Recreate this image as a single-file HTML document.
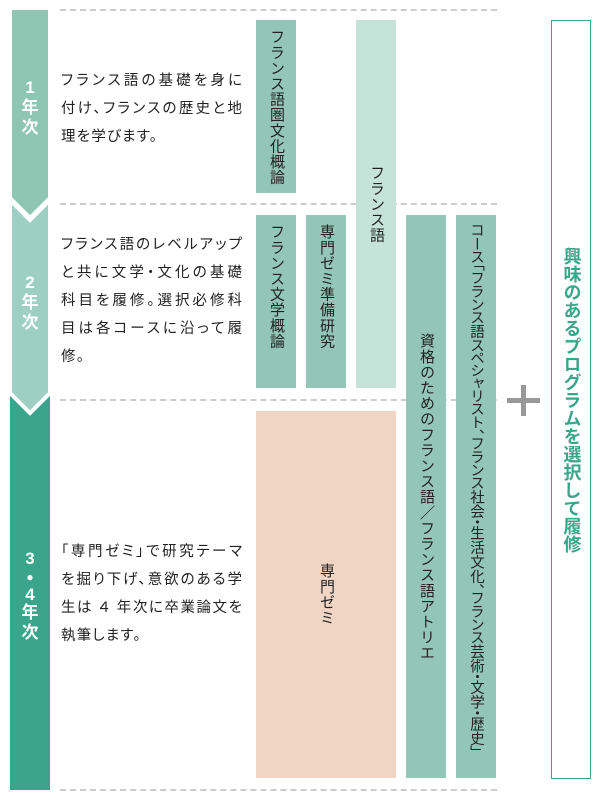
<!DOCTYPE html>
<html><head><meta charset="utf-8"><style>
body{margin:0;width:600px;height:800px;background:#fff;position:relative;overflow:hidden;font-family:"Liberation Sans","Noto Sans CJK JP",sans-serif;color:#222}
.a{position:absolute}
.dl{position:absolute;left:60px;width:437px;border-top:2px dashed #ccc;height:0}
.b{position:absolute;width:40px;background:#93c6b6;writing-mode:vertical-rl;font-size:15px;display:flex;align-items:center;box-sizing:border-box;letter-spacing:0.6px;line-height:40px;white-space:nowrap}
.top{justify-content:flex-start;padding-top:9px}
.mid{justify-content:center}
.d{position:absolute;left:61px;font-size:14.5px;line-height:28px;width:181px;white-space:nowrap;font-feature-settings:'palt'}
.d div{text-align:justify;text-align-last:justify}
.d div.l{text-align-last:left;letter-spacing:1.2px}
.y{position:absolute;left:10px;width:40px;text-align:center;color:#fff;font-weight:bold;font-size:17px;line-height:20px}
</style></head><body>
<svg class="a" style="left:0;top:0" width="60" height="800">
<rect x="10" y="200" width="40" height="200" fill="#9dd0c2"/>
<rect x="10" y="395" width="40" height="395" fill="#3aa58a"/>
<polygon points="10,200 30,220 50,200 50,393 30,413 10,393" fill="#9dd0c2" stroke="#fff" stroke-width="4"/>
<polygon points="10,8 50,8 50,198 30,218 10,198" fill="#8fc5b3" stroke="#fff" stroke-width="4"/>
</svg>
<div class="y" style="top:78px">1<br>年<br>次</div>
<div class="y" style="top:273px">2<br>年<br>次</div>
<div class="y" style="top:550px;line-height:17px">3<br><span style="font-size:12px">●</span><br>4<br><span style="line-height:20px">年<br>次</span></div>
<div class="dl" style="top:9px"></div>
<div class="dl" style="top:203px"></div>
<div class="dl" style="top:399px"></div>
<div class="dl" style="top:789px"></div>
<div class="d" style="top:67px"><div>フランス語の基礎を身に</div><div>付け、フランスの歴史と地</div><div class="l">理を学びます。</div></div>
<div class="d" style="top:231px"><div>フランス語のレベルアップ</div><div>と共に文学・文化の基礎</div><div>科目を履修。選択必修科</div><div>目は各コースに沿って履</div><div class="l">修。</div></div>
<div class="d" style="top:538px"><div>「専門ゼミ」で研究テーマ</div><div>を掘り下げ、意欲のある学</div><div>生は ４ 年次に卒業論文を</div><div class="l">執筆します。</div></div>
<div class="b top" style="left:256px;top:20px;height:173px">フランス語圏文化概論</div>
<div class="b mid" style="left:356px;top:20px;height:368px;background:#c6e3da">フランス語</div>
<div class="b top" style="left:256px;top:215px;height:173px">フランス文学概論</div>
<div class="b top" style="left:306px;top:215px;height:173px">専門ゼミ準備研究</div>
<div class="b mid" style="left:406px;top:215px;height:563px">資格のためのフランス語／フランス語アトリエ</div>
<div class="b top" style="left:456px;top:215px;height:563px;font-size:14.5px;letter-spacing:0;padding-top:8px;font-feature-settings:'vpal';overflow:hidden">コース「フランス語スペシャリスト、フランス社会・生活文化、フランス芸術・文学・歴史」</div>
<div class="b mid" style="left:256px;top:411px;height:367px;width:140px;background:#f0d5c5;line-height:140px">専門ゼミ</div>
<div class="a" style="left:507px;top:398px;width:33px;height:5px;background:#999"></div>
<div class="a" style="left:521px;top:385px;width:5px;height:31px;background:#999"></div>
<div class="a" style="left:551px;top:20px;width:40px;height:759px;border:1.5px solid #3aa58a;box-sizing:border-box;writing-mode:vertical-rl;display:flex;align-items:center;justify-content:center;color:#3aa58a;font-weight:bold;font-size:18px;line-height:37px">興味のあるプログラムを選択して履修</div>
</body></html>
